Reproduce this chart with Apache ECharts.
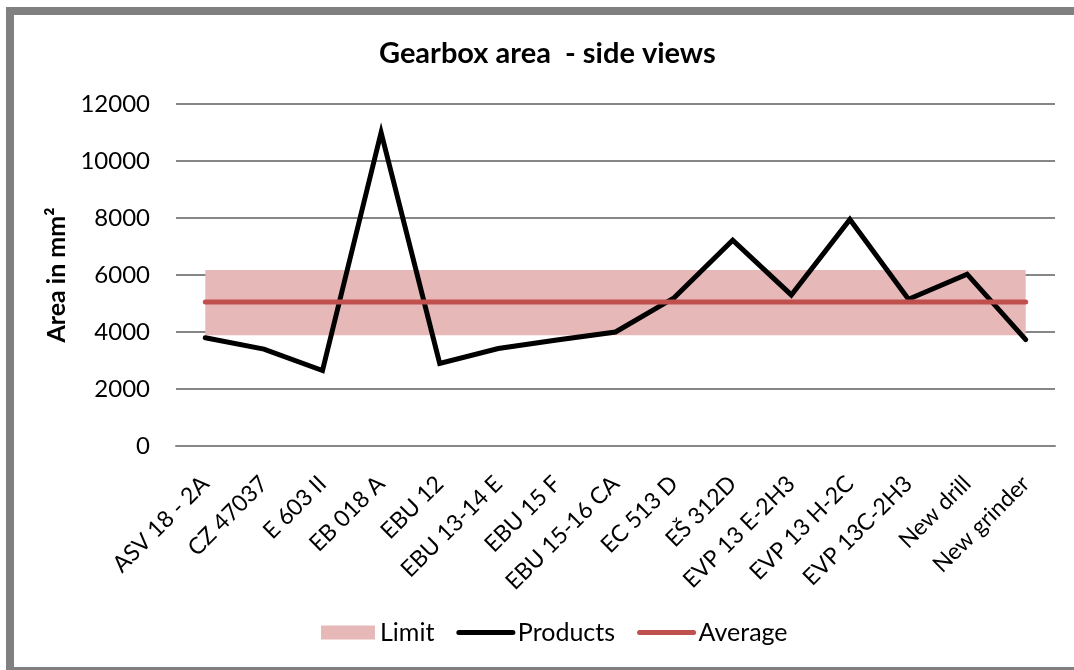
<!DOCTYPE html>
<html>
<head>
<meta charset="utf-8">
<script src="https://cdn.jsdelivr.net/npm/echarts@6/dist/echarts.min.js"></script>
<style>
  html, body { margin: 0; padding: 0; background: #fff; }
  #main { width: 1074px; height: 670px; }
</style>
</head>
<body>
<div id="main"></div>
<script>
// categories and values
var categories = ['ASV 18 - 2A', 'CZ 47037', 'E 603 II', 'EB 018 A', 'EBU 12', 'EBU 13-14 E', 'EBU 15 F',
    'EBU 15-16 CA', 'EC 513 D', 'EŠ 312D', 'EVP 13 E-2H3', 'EVP 13 H-2C', 'EVP 13C-2H3', 'New drill', 'New grinder'];
var products = [3800, 3400, 2650, 11000, 2900, 3420, 3720, 4000, 5200, 7220, 5300, 7950, 5150, 6030, 3730];
var average = [5050, 5050, 5050, 5050, 5050, 5050, 5050, 5050, 5050, 5050, 5050, 5050, 5050, 5050, 5050];
// limit band: lower edge and band height (stacked)
var limitLow = [3885, 3885, 3885, 3885, 3885, 3885, 3885, 3885, 3885, 3885, 3885, 3885, 3885, 3885, 3885];
var limitSpan = [2290, 2290, 2290, 2290, 2290, 2290, 2290, 2290, 2290, 2290, 2290, 2290, 2290, 2290, 2290];
var yTicks = [0, 2000, 4000, 6000, 8000, 10000, 12000];

var font = 'Lato, "Noto Sans", sans-serif';
var chart = echarts.init(document.getElementById('main'));
var option = {
    animation: false,
    backgroundColor: '#fff',
    textStyle: { fontFamily: font, color: '#000' },
    graphic: [{
        type: 'rect',
        shape: { x: 10, y: 11, width: 1100, height: 660 },
        style: { fill: null, stroke: '#808080', lineWidth: 8 },
        silent: true
    }],
    title: {
        text: 'Gearbox area  - side views',
        left: 374,
        top: 34,
        textStyle: { fontFamily: font, fontSize: 29, fontWeight: 'bold', color: '#000' }
    },
    legend: {
        left: 316,
        top: 615,
        itemWidth: 54,
        itemHeight: 14,
        itemGap: 22,
        textStyle: { fontFamily: font, fontSize: 25, color: '#000' },
        data: [
            { name: 'Limit', icon: 'rect' },
            { name: 'Products', itemStyle: { opacity: 0 }, lineStyle: { width: 5, cap: 'round' } },
            { name: 'Average', itemStyle: { opacity: 0 }, lineStyle: { width: 5, cap: 'round' } }
        ]
    },
    grid: { left: 176, right: 19, top: 104, bottom: 224 },
    xAxis: {
        type: 'category',
        data: categories,
        boundaryGap: true,
        axisLine: { lineStyle: { color: '#868686', width: 2 } },
        axisTick: { show: false },
        axisLabel: { rotate: 45, interval: 0, margin: 34, fontFamily: font, fontSize: 23, color: '#000' }
    },
    yAxis: {
        type: 'value',
        min: yTicks[0],
        max: yTicks[yTicks.length - 1],
        interval: 2000,
        name: 'Area in mm²',
        nameLocation: 'middle',
        nameGap: 100,
        nameTextStyle: { fontFamily: font, fontSize: 25, fontWeight: 'bold', color: '#000' },
        axisLine: { show: false },
        axisTick: { show: false },
        axisLabel: {
            margin: 26, fontFamily: font, fontSize: 24, color: '#000',
            formatter: function (v) { return String(v); }
        },
        splitLine: { lineStyle: { color: '#868686', width: 2 } }
    },
    series: [
        {
            name: 'base',
            type: 'line',
            stack: 'limit',
            data: limitLow,
            symbol: 'none',
            lineStyle: { width: 0, opacity: 0 },
            silent: true
        },
        {
            name: 'Limit',
            type: 'line',
            stack: 'limit',
            data: limitSpan,
            symbol: 'none',
            color: '#E6B9B8',
            lineStyle: { width: 0, opacity: 0 },
            areaStyle: { color: '#E6B9B8', opacity: 1 }
        },
        {
            name: 'Products',
            type: 'line',
            data: products,
            symbol: 'none',
            color: '#000',
            lineStyle: { color: '#000', width: 5, cap: 'round', join: 'miter' },
            z: 3
        },
        {
            name: 'Average',
            type: 'line',
            data: average,
            symbol: 'none',
            color: '#C0504D',
            lineStyle: { color: '#C0504D', width: 5, cap: 'round' },
            z: 4
        }
    ]
};
chart.setOption(option);
</script>
</body>
</html>
